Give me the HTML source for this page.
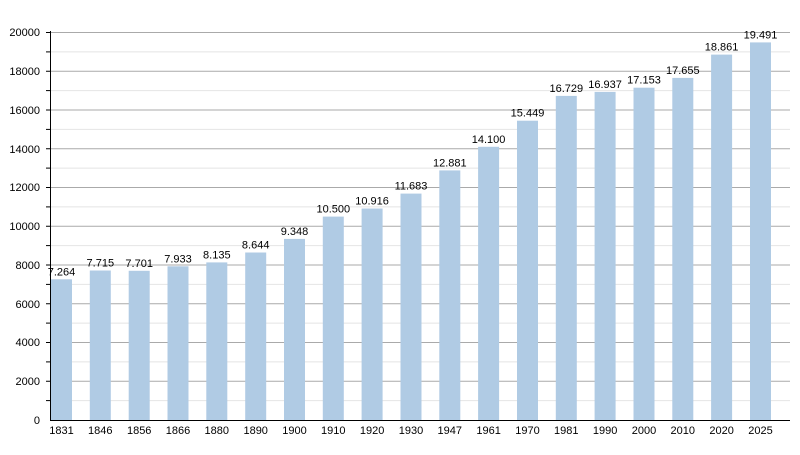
<!DOCTYPE html>
<html><head><meta charset="utf-8"><style>body{margin:0;background:#fff}</style></head><body>
<svg width="800" height="450" xmlns="http://www.w3.org/2000/svg" font-family="Liberation Sans, sans-serif" font-size="11">
<g stroke="#e4e4e4">
<line x1="50" x2="790" y1="400.6" y2="400.6"/><line x1="50" x2="790" y1="361.9" y2="361.9"/><line x1="50" x2="790" y1="323.1" y2="323.1"/><line x1="50" x2="790" y1="284.4" y2="284.4"/><line x1="50" x2="790" y1="245.6" y2="245.6"/><line x1="50" x2="790" y1="206.9" y2="206.9"/><line x1="50" x2="790" y1="168.1" y2="168.1"/><line x1="50" x2="790" y1="129.4" y2="129.4"/><line x1="50" x2="790" y1="90.6" y2="90.6"/><line x1="50" x2="790" y1="51.9" y2="51.9"/>
</g>
<g stroke="#aaa">
<line x1="50" x2="790" y1="381.25" y2="381.25"/><line x1="50" x2="790" y1="342.5" y2="342.5"/><line x1="50" x2="790" y1="303.75" y2="303.75"/><line x1="50" x2="790" y1="265" y2="265"/><line x1="50" x2="790" y1="226.25" y2="226.25"/><line x1="50" x2="790" y1="187.5" y2="187.5"/><line x1="50" x2="790" y1="148.75" y2="148.75"/><line x1="50" x2="790" y1="110" y2="110"/><line x1="50" x2="790" y1="71.25" y2="71.25"/><line x1="50" x2="790" y1="32.5" y2="32.5"/>
</g>
<g stroke="#000">
<line x1="46" x2="50" y1="400.6" y2="400.6"/><line x1="46" x2="50" y1="381.25" y2="381.25"/><line x1="46" x2="50" y1="361.9" y2="361.9"/><line x1="46" x2="50" y1="342.5" y2="342.5"/><line x1="46" x2="50" y1="323.1" y2="323.1"/><line x1="46" x2="50" y1="303.75" y2="303.75"/><line x1="46" x2="50" y1="284.4" y2="284.4"/><line x1="46" x2="50" y1="265" y2="265"/><line x1="46" x2="50" y1="245.6" y2="245.6"/><line x1="46" x2="50" y1="226.25" y2="226.25"/><line x1="46" x2="50" y1="206.9" y2="206.9"/><line x1="46" x2="50" y1="187.5" y2="187.5"/><line x1="46" x2="50" y1="168.1" y2="168.1"/><line x1="46" x2="50" y1="148.75" y2="148.75"/><line x1="46" x2="50" y1="129.4" y2="129.4"/><line x1="46" x2="50" y1="110" y2="110"/><line x1="46" x2="50" y1="90.6" y2="90.6"/><line x1="46" x2="50" y1="71.25" y2="71.25"/><line x1="46" x2="50" y1="51.9" y2="51.9"/><line x1="46" x2="50" y1="32.5" y2="32.5"/>
</g>
<g text-anchor="end" fill="#000">
<text x="40" y="424">0</text><text x="40" y="385">2000</text><text x="40" y="346">4000</text><text x="40" y="308">6000</text><text x="40" y="269">8000</text><text x="40" y="230">10000</text><text x="40" y="191">12000</text><text x="40" y="153">14000</text><text x="40" y="114">16000</text><text x="40" y="75">18000</text><text x="40" y="36">20000</text>
</g>
<g fill="#b0cbe4">
<rect x="51" y="279.3" width="21" height="140.7"/>
<rect x="89.8" y="270.5" width="21" height="149.5"/>
<rect x="128.7" y="270.8" width="21" height="149.2"/>
<rect x="167.5" y="266.3" width="21" height="153.7"/>
<rect x="206.3" y="262.4" width="21" height="157.6"/>
<rect x="245.2" y="252.5" width="21" height="167.5"/>
<rect x="284" y="238.9" width="21" height="181.1"/>
<rect x="322.8" y="216.6" width="21" height="203.4"/>
<rect x="361.6" y="208.5" width="21" height="211.5"/>
<rect x="400.5" y="193.6" width="21" height="226.4"/>
<rect x="439.3" y="170.4" width="21" height="249.6"/>
<rect x="478.1" y="146.8" width="21" height="273.2"/>
<rect x="517" y="120.7" width="21" height="299.3"/>
<rect x="555.8" y="95.9" width="21" height="324.1"/>
<rect x="594.6" y="91.9" width="21" height="328.1"/>
<rect x="633.5" y="87.7" width="21" height="332.3"/>
<rect x="672.3" y="77.9" width="21" height="342.1"/>
<rect x="711.1" y="54.6" width="21" height="365.4"/>
<rect x="750" y="42.4" width="21" height="377.6"/>
</g>
<g text-anchor="middle" fill="#000">
<text x="61.5" y="275.3">7.264</text>
<text x="100.3" y="266.5">7.715</text>
<text x="139.2" y="266.8">7.701</text>
<text x="178" y="262.3">7.933</text>
<text x="216.8" y="258.4">8.135</text>
<text x="255.7" y="248.5">8.644</text>
<text x="294.5" y="234.9">9.348</text>
<text x="333.3" y="212.6">10.500</text>
<text x="372.1" y="204.5">10.916</text>
<text x="411" y="189.6">11.683</text>
<text x="449.8" y="166.4">12.881</text>
<text x="488.6" y="142.8">14.100</text>
<text x="527.5" y="116.7">15.449</text>
<text x="566.3" y="91.9">16.729</text>
<text x="605.1" y="87.9">16.937</text>
<text x="644" y="83.7">17.153</text>
<text x="682.8" y="73.9">17.655</text>
<text x="721.6" y="50.6">18.861</text>
<text x="760.5" y="38.4">19.491</text>
<text x="61.5" y="434">1831</text>
<text x="100.3" y="434">1846</text>
<text x="139.2" y="434">1856</text>
<text x="178" y="434">1866</text>
<text x="216.8" y="434">1880</text>
<text x="255.7" y="434">1890</text>
<text x="294.5" y="434">1900</text>
<text x="333.3" y="434">1910</text>
<text x="372.1" y="434">1920</text>
<text x="411" y="434">1930</text>
<text x="449.8" y="434">1947</text>
<text x="488.6" y="434">1961</text>
<text x="527.5" y="434">1970</text>
<text x="566.3" y="434">1981</text>
<text x="605.1" y="434">1990</text>
<text x="644" y="434">2000</text>
<text x="682.8" y="434">2010</text>
<text x="721.6" y="434">2020</text>
<text x="760.5" y="434">2025</text>
</g>
<line x1="50.5" x2="50.5" y1="31" y2="421" stroke="#000"/>
<line x1="50" x2="790" y1="420.5" y2="420.5" stroke="#000"/>
</svg></body></html>
